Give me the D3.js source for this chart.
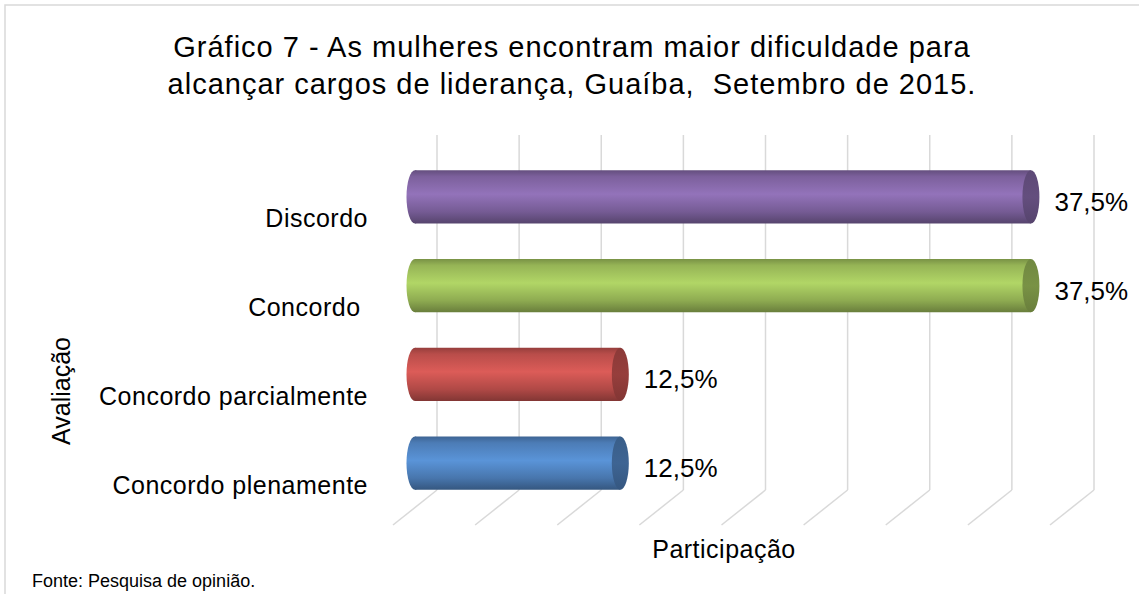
<!DOCTYPE html>
<html>
<head>
<meta charset="utf-8">
<script src="https://cdn.jsdelivr.net/npm/d3@7"></script>
<style>
  body { margin: 0; background: #fff; }
  svg { display: block; }
  text { white-space: pre; }
</style>
</head>
<body>
<script>
// chart data
const titleLines = [
  "Gráfico 7 - As mulheres encontram maior dificuldade para",
  "alcançar cargos de liderança, Guaíba,  Setembro de 2015."
];
const categories = ["Discordo", "Concordo ", "Concordo parcialmente", "Concordo plenamente"];
const values = [37.5, 37.5, 12.5, 12.5];
const gridTicks = [0, 5, 10, 15, 20, 25, 30, 35, 40];
const xTitle = "Participação";
const yTitle = "Avaliação";
const source = "Fonte: Pesquisa de opinião.";

// excel 2007 palette, one colour per bar
const palette = ["#8064a2", "#9bbb59", "#c0504d", "#4f81bd"];

const width = 1139;
const height = 594;
const font = "'Liberation Sans', Arial, sans-serif";

// 3d depth of the plot floor (back -> front)
const depthX = -44;
const depthY = 35;
const capRx = 8.5;

const ptBR = d3.formatLocale({ decimal: ",", thousands: ".", grouping: [3], currency: ["R$", ""] });
const fmt = (v) => ptBR.format(".1f")(v) + "%";

const svg = d3.select("body")
  .append("svg")
  .attr("width", width)
  .attr("height", height)
  .attr("font-family", font);

// chart area border (only top and left fall inside the picture)
svg.append("rect")
  .attr("x", 5).attr("y", 5)
  .attr("width", 1300).attr("height", 800)
  .attr("fill", "none")
  .attr("stroke", "#d9d9d9")
  .attr("stroke-width", 1.5);

// back wall scales
const x = d3.scaleLinear().domain([0, 40]).range([437, 1094]);
const y = d3.scaleBand()
  .domain(categories)
  .range([135, 490])
  .paddingInner(0.4)
  .paddingOuter(0.2);

const grid = svg.append("g")
  .attr("stroke", "#d9d9d9")
  .attr("stroke-width", 1.5)
  .attr("fill", "none");

grid.selectAll("line.wall")
  .data(gridTicks)
  .join("line")
  .attr("class", "wall")
  .attr("x1", (d) => x(d)).attr("x2", (d) => x(d))
  .attr("y1", y.range()[0]).attr("y2", y.range()[1]);

grid.selectAll("line.floor")
  .data(gridTicks)
  .join("line")
  .attr("class", "floor")
  .attr("x1", (d) => x(d)).attr("y1", y.range()[1])
  .attr("x2", (d) => x(d) + depthX).attr("y2", y.range()[1] + depthY);

// gradients for the cylinders
const defs = svg.append("defs");
palette.forEach((c, i) => {
  const base = d3.color(c);
  const body = defs.append("linearGradient")
    .attr("id", `body${i}`)
    .attr("x1", 0).attr("y1", 0).attr("x2", 0).attr("y2", 1);
  [
    [0, base.darker(0.7)],
    [0.12, base.darker(0.1)],
    [0.45, base.brighter(0.38)],
    [0.78, base.darker(0.25)],
    [1, base.darker(1.1)]
  ].forEach(([o, col]) => body.append("stop").attr("offset", o).attr("stop-color", col));

  const cap = defs.append("linearGradient")
    .attr("id", `cap${i}`)
    .attr("x1", 0).attr("y1", 0).attr("x2", 0).attr("y2", 1);
  [
    [0, base.darker(0.9)],
    [0.5, base.darker(0.7)],
    [1, base.darker(1.1)]
  ].forEach(([o, col]) => cap.append("stop").attr("offset", o).attr("stop-color", col));
});

const data = categories.map((c, i) => ({ key: c, value: values[i], i }));

// bars sit half way into the depth
const bx = (v) => x(v) + depthX / 2;
const bcy = (d) => y(d.key) + y.bandwidth() / 2 + depthY / 2;

const bars = svg.append("g")
  .selectAll("g")
  .data(data)
  .join("g");

bars.append("ellipse")
  .attr("cx", bx(0))
  .attr("cy", bcy)
  .attr("rx", capRx)
  .attr("ry", y.bandwidth() / 2)
  .attr("fill", (d) => `url(#body${d.i})`);

bars.append("rect")
  .attr("x", bx(0))
  .attr("y", (d) => bcy(d) - y.bandwidth() / 2)
  .attr("width", (d) => bx(d.value) - bx(0))
  .attr("height", y.bandwidth())
  .attr("fill", (d) => `url(#body${d.i})`);

bars.append("ellipse")
  .attr("cx", (d) => bx(d.value))
  .attr("cy", bcy)
  .attr("rx", capRx)
  .attr("ry", y.bandwidth() / 2)
  .attr("fill", (d) => `url(#cap${d.i})`);

// value labels
svg.append("g")
  .attr("font-size", 26)
  .attr("fill", "#000")
  .selectAll("text")
  .data(data)
  .join("text")
  .attr("x", (d) => bx(d.value) + capRx + 15)
  .attr("y", (d) => bcy(d) + 14)
  .text((d) => fmt(d.value));

// category labels
svg.append("g")
  .attr("font-size", 25)
  .attr("letter-spacing", 0.5)
  .attr("text-anchor", "end")
  .selectAll("text")
  .data(categories)
  .join("text")
  .attr("x", 368)
  .attr("y", (d) => y(d) + y.bandwidth() / 2 + 48)
  .text((d) => d);

// title
svg.append("g")
  .attr("font-size", 29)
  .attr("letter-spacing", 1)
  .attr("text-anchor", "middle")
  .selectAll("text")
  .data(titleLines)
  .join("text")
  .attr("x", 572)
  .attr("y", (d, i) => 57 + i * 37)
  .text((d) => d);

// axis titles
svg.append("text")
  .attr("x", 724)
  .attr("y", 558)
  .attr("font-size", 25)
  .attr("letter-spacing", 0.5)
  .attr("text-anchor", "middle")
  .text(xTitle);

svg.append("text")
  .attr("transform", "translate(70,391) rotate(-90)")
  .attr("font-size", 25)
  .attr("text-anchor", "middle")
  .text(yTitle);

svg.append("text")
  .attr("x", 32)
  .attr("y", 587)
  .attr("font-size", 18)
  .text(source);
</script>
</body>
</html>
